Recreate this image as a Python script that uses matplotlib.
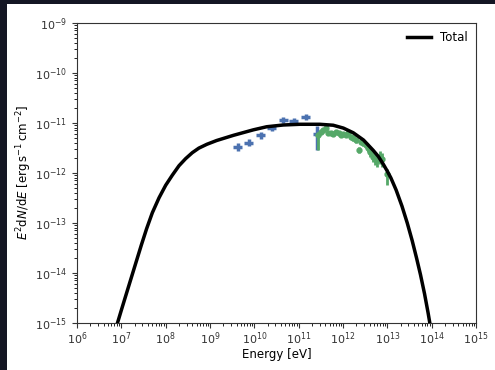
import matplotlib
matplotlib.use('Agg')
import matplotlib.pyplot as plt
from matplotlib.patches import Rectangle

# Model curve
model_E = [7.59e6, 1.0e7, 1.32e7, 2.0e7, 2.82e7, 3.72e7, 5.0e7, 7.1e7, 1.0e8, 1.41e8,
           2.0e8, 2.82e8, 3.98e8, 5.6e8, 8.5e8, 1.41e9, 3.4e9, 9.5e9, 1.9e10, 4.5e10,
           1.07e11, 3.0e11, 6.0e11, 1.02e12, 1.7e12, 2.9e12, 4.8e12, 6.3e12, 8.1e12, 1.0e13,
           1.2e13, 1.58e13, 2.14e13, 2.82e13, 3.63e13, 4.57e13, 5.6e13, 6.9e13, 8.3e13, 1.0e14]
model_F = [7.9e-16, 1.78e-15, 3.98e-15, 1.32e-14, 3.55e-14, 7.6e-14, 1.58e-13, 3.16e-13, 5.6e-13, 8.9e-13,
           1.38e-12, 1.91e-12, 2.51e-12, 3.1e-12, 3.7e-12, 4.4e-12, 5.6e-12, 7.2e-12, 8.3e-12, 9.0e-12,
           9.3e-12, 9.3e-12, 8.9e-12, 7.8e-12, 6.3e-12, 4.5e-12, 2.8e-12, 2.1e-12, 1.48e-12, 1.07e-12,
           7.9e-13, 4.5e-13, 2.14e-13, 9.8e-14, 4.4e-14, 1.95e-14, 9.1e-15, 3.8e-15, 1.58e-15, 6.0e-16]

# GeV points (blue)
blue_E = [4.2e9, 7.4e9, 1.38e10, 2.5e10, 4.5e10, 7.9e10, 1.45e11, 2.6e11]
blue_F = [3.3e-12, 4.0e-12, 5.6e-12, 7.9e-12, 1.13e-11, 1.1e-11, 1.28e-11, 5.9e-12]
blue_xlo = [0.9e9, 1.6e9, 2.9e9, 5.2e9, 9.5e9, 1.7e10, 3.0e10, 5.0e10]
blue_xhi = [1.1e9, 1.9e9, 3.6e9, 6.5e9, 1.2e10, 2.0e10, 3.8e10, 6.0e10]
blue_ylo = [0.6e-12, 0.6e-12, 0.8e-12, 1.0e-12, 1.4e-12, 1.4e-12, 1.7e-12, 3.1e-12]
blue_yhi = [0.6e-12, 0.7e-12, 0.9e-12, 1.1e-12, 1.5e-12, 1.5e-12, 2.0e-12, 2.7e-12]

# TeV points (green)
green_E = [2.75e11, 3.16e11, 3.63e11, 4.07e11, 4.68e11, 5.37e11, 6.03e11, 6.92e11, 7.94e11, 8.91e11,
           1.02e12, 1.17e12, 1.32e12, 1.48e12, 1.70e12, 1.95e12, 2.24e12, 2.51e12, 2.88e12, 3.24e12,
           3.72e12, 4.17e12, 4.68e12, 5.25e12, 5.89e12, 6.76e12, 7.76e12, 9.77e12]
green_F = [5.6e-12, 6.6e-12, 7.1e-12, 7.7e-12, 6.1e-12, 6.3e-12, 5.9e-12, 6.6e-12, 6.1e-12, 5.6e-12,
           5.9e-12, 5.6e-12, 6.1e-12, 5.2e-12, 4.9e-12, 4.5e-12, 2.9e-12, 4.2e-12, 3.9e-12, 3.6e-12,
           3.1e-12, 2.6e-12, 2.1e-12, 1.9e-12, 1.8e-12, 2.1e-12, 1.9e-12, 9.4e-13]
green_ylo = [2.7e-12, 0.6e-12, 0.6e-12, 0.6e-12, 0.5e-12, 0.5e-12, 0.5e-12, 0.5e-12, 0.5e-12, 0.5e-12,
             0.5e-12, 0.5e-12, 0.5e-12, 0.5e-12, 0.5e-12, 0.5e-12, 0.4e-12, 0.5e-12, 0.5e-12, 0.5e-12,
             0.5e-12, 0.5e-12, 0.5e-12, 0.5e-12, 0.5e-12, 0.6e-12, 0.6e-12, 3.8e-13]
green_yhi = [1.0e-12, 0.6e-12, 0.6e-12, 0.6e-12, 0.5e-12, 0.5e-12, 0.5e-12, 0.5e-12, 0.5e-12, 0.5e-12,
             0.5e-12, 0.5e-12, 0.5e-12, 0.5e-12, 0.5e-12, 0.5e-12, 0.4e-12, 0.5e-12, 0.5e-12, 0.5e-12,
             0.5e-12, 0.5e-12, 0.5e-12, 0.5e-12, 0.5e-12, 0.6e-12, 0.6e-12, 2.5e-13]

fig = plt.figure(figsize=(4.95, 3.7), dpi=100, facecolor='#141624')
# white page area inside the dark border
fig.patches.append(Rectangle((7 / 495, 0), 1, (370 - 4) / 370, transform=fig.transFigure,
                             facecolor='white', edgecolor='none', zorder=-10))
ax = fig.add_axes([77 / 495, 47.3 / 370, 399 / 495, 300 / 370])

ax.errorbar(blue_E, blue_F, xerr=[blue_xlo, blue_xhi], yerr=[blue_ylo, blue_yhi],
            fmt='none', ecolor='#4C72B0', elinewidth=2.5, capsize=0, zorder=3)
ax.errorbar(green_E, green_F, yerr=[green_ylo, green_yhi], fmt='o', color='#55A868',
            ms=3.5, elinewidth=2, capsize=0, zorder=3)
ax.plot(model_E, model_F, color='black', lw=2.5, label='Total', zorder=4,
        solid_joinstyle='round')

ax.set_xscale('log')
ax.set_yscale('log')
ax.set_xlim(1e6, 1e15)
ax.set_ylim(1e-15, 1e-9)
ax.set_xlabel('Energy [eV]', fontsize=8.5, labelpad=1)
ax.set_ylabel(r'$E^2{\rm d}N/{\rm d}E$ [${\rm erg\,s^{-1}\,cm^{-2}}$]', fontsize=8.5, labelpad=1)
ax.tick_params(labelsize=8, colors='#333333')
ax.tick_params(axis='x', pad=2)
for s in ax.spines.values():
    s.set_color('#333333')
ax.legend(loc='upper right', frameon=False, fontsize=8.5, borderaxespad=0.3)

fig.savefig('out.png', dpi=100, facecolor=fig.get_facecolor())
